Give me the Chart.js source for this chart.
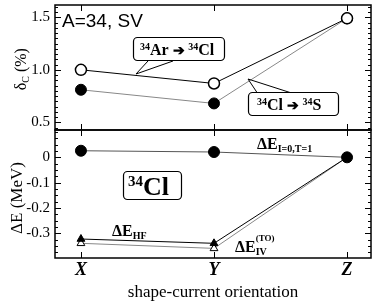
<!DOCTYPE html>
<html>
<head>
<meta charset="utf-8">
<script src="https://cdn.jsdelivr.net/npm/chart.js@4.4.1/dist/chart.umd.min.js"></script>
<style>
  html, body { margin: 0; padding: 0; background: #fff; }
  #wrap { position: relative; width: 374px; height: 305px; overflow: hidden; }
  .box { position: absolute; left: 0; width: 374px; }
  #topBox { top: 0; height: 131px; }
  #botBox { top: 129px; height: 176px; }
  canvas { display: block; }
</style>
</head>
<body>
<div id="wrap">
  <div class="box" id="topBox"><canvas id="topChart"></canvas></div>
  <div class="box" id="botBox"><canvas id="botChart"></canvas></div>
</div>
<script>
// ── Data ─────────────────────────────────────────────────────────────────────
const categories    = ["X", "Y", "Z"];
const arToCl        = [1.00, 0.87, 1.49];     // open circles, 34Ar -> 34Cl
const clToS         = [0.81, 0.68, 1.49];     // filled circles, 34Cl -> 34S
const dE_T          = [0.026, 0.021, 0.0];    // filled circles
const dE_HF         = [-0.323, -0.340, 0.0];  // filled triangles
const dE_IV         = [-0.340, -0.360, 0.0];  // open triangles
const topTicks      = [0.5, 1.0, 1.5];
const topTickLabels = ["0.5", "1.0", "1.5"];
const botTicks      = [-0.3, -0.2, -0.1, 0];
const botTickLabels = ["-0.3", "-0.2", "-0.1", "0"];

const SERIF = '"Liberation Serif", "DejaVu Serif", serif';
const SANS  = '"Liberation Sans", Arial, sans-serif';

const pts = arr => arr.map((v, i) => ({ x: i, y: v }));

// ── Helpers ──────────────────────────────────────────────────────────────────
// parts: [text, size, dy, style, noAdvance]
function rich(ctx, x, y, parts) {
    let cx = x;
    ctx.textBaseline = "alphabetic";
    ctx.textAlign = "left";
    for (const [t, size, dy, st, stay] of parts) {
        ctx.font = `${st || "bold"} ${size}px ${SERIF}`;
        ctx.fillText(t, cx, y + (dy || 0));
        if (!stay) cx += ctx.measureText(t).width;
    }
    return cx - x;
}

function bubble(ctx, x, y, w, h, tip, base) {
    ctx.save();
    ctx.beginPath();
    ctx.roundRect(x, y, w, h, 4);
    ctx.fillStyle = "#fff";
    ctx.fill();
    ctx.lineWidth = 1.2;
    ctx.strokeStyle = "#000";
    ctx.stroke();
    if (tip) {
        ctx.beginPath();
        ctx.moveTo(base[0], base[2]);
        ctx.lineTo(tip[0], tip[1]);
        ctx.lineTo(base[1], base[2]);
        ctx.lineWidth = 1;
        ctx.stroke();
    }
    ctx.restore();
}

// frame + inward ticks
const framePlugin = {
    id: "frame",
    afterDatasetsDraw(chart, args, opts) {
        const { ctx, chartArea: a, scales } = chart;
        const ys = scales.y, xs = scales.x;
        ctx.save();
        ctx.strokeStyle = "#000";
        ctx.lineWidth = 1;
        ctx.beginPath();
        // minor y ticks
        for (let v = Math.ceil(ys.min / opts.minor) * opts.minor; v <= ys.max; v += opts.minor) {
            const py = Math.round(ys.getPixelForValue(v)) + 0.5;
            ctx.moveTo(a.left, py);  ctx.lineTo(a.left + 3, py);
            ctx.moveTo(a.right, py); ctx.lineTo(a.right - 3, py);
        }
        // major y ticks
        for (const v of opts.major) {
            const py = Math.round(ys.getPixelForValue(v)) + 0.5;
            ctx.moveTo(a.left, py);  ctx.lineTo(a.left + 6, py);
            ctx.moveTo(a.right, py); ctx.lineTo(a.right - 6, py);
        }
        // x ticks
        categories.forEach((c, i) => {
            const px = Math.round(xs.getPixelForValue(i)) + 0.5;
            ctx.moveTo(px, a.top);    ctx.lineTo(px, a.top + 6);
            ctx.moveTo(px, a.bottom); ctx.lineTo(px, a.bottom - 6);
        });
        ctx.stroke();
        ctx.lineWidth = 1.5;
        ctx.strokeRect(a.left, a.top, a.right - a.left, a.bottom - a.top);
        ctx.restore();
        if (opts.extra) opts.extra(ctx, chart);
    }
};

function baseOptions(yMin, yMax, ticks, labels, showX) {
    return {
        responsive: true,
        maintainAspectRatio: false,
        animation: false,
        devicePixelRatio: 1,
        layout: {
            autoPadding: false,
            padding: showX ? { top: 1, right: 3, bottom: 0, left: 0 } : { top: 5, right: 3, bottom: 1, left: 0 }
        },
        plugins: { legend: { display: false }, tooltip: { enabled: false } },
        scales: {
            x: {
                type: "linear", min: -0.195, max: 2.18, display: showX,
                afterBuildTicks: s => { s.ticks = categories.map((c, i) => ({ value: i })); },
                afterFit: s => {
                    if (showX) s.height = 47;
                    s.paddingLeft = 0; s.paddingRight = 0;
                },
                ticks: {
                    callback: v => categories[v], color: "#000", padding: 2,
                    maxRotation: 0, autoSkip: false,
                    font: { family: SERIF, size: 18, style: "italic", weight: "bold" }
                },
                grid: { display: false, drawTicks: false },
                border: { display: false },
                title: {
                    display: true, text: "shape-current orientation", color: "#000",
                    font: { family: SERIF, size: 17 }, padding: { top: 0, bottom: 2 }
                }
            },
            y: {
                min: yMin, max: yMax,
                afterBuildTicks: s => { s.ticks = ticks.map(v => ({ value: v })); },
                afterFit: s => { s.width = 55; s.paddingTop = 0; s.paddingBottom = 0; },
                ticks: {
                    callback: (v, i) => labels[i], color: "#000", padding: 5,
                    font: { family: SERIF, size: 15 }
                },
                grid: { display: false, drawTicks: false },
                border: { display: false }
            }
        }
    };
}

// ── Top panel: delta_C ───────────────────────────────────────────────────────
const topOpts = baseOptions(0.427, 1.617, topTicks, topTickLabels, false);
topOpts.plugins.frame = {
    minor: 0.05, major: topTicks,
    extra(ctx) {
        ctx.save();
        ctx.fillStyle = "#000";
        ctx.font = `19px ${SANS}`;
        ctx.textBaseline = "alphabetic";
        ctx.textAlign = "left";
        ctx.fillText("A=34, SV", 62, 27);
        // y title
        ctx.translate(26, 69);
        ctx.rotate(-Math.PI / 2);
        ctx.font = `16px ${SERIF}`;
        let w = ctx.measureText("δ").width + 7 + ctx.measureText(" (%)").width;
        rich(ctx, -w / 2, 0, [["δ", 16, 0, "normal"], ["C", 10, 3, "normal"], [" (%)", 16, 0, "normal"]]);
        ctx.restore();

        ctx.save();
        ctx.fillStyle = "#000";
        bubble(ctx, 133.5, 37.5, 91, 23, [136, 74], [148, 173, 61]);
        rich(ctx, 140, 55, [["34", 10, -5], ["Ar ", 16], ["➔ ", 14], ["34", 10, -5], ["Cl", 16]]);
        bubble(ctx, 248.5, 92.5, 90, 23, [248, 79], [257, 290, 92.5]);
        rich(ctx, 257, 110, [["34", 10, -5], ["Cl ", 16], ["➔ ", 14], ["34", 10, -5], ["S", 16]]);
        ctx.restore();
    }
};
new Chart(document.getElementById("topChart"), {
    type: "line",
    data: {
        datasets: [
            { data: pts(arToCl), borderColor: "#000", borderWidth: 1, pointRadius: 5.5,
              pointBackgroundColor: "#fff", pointBorderColor: "#000", pointBorderWidth: 1.5, clip: false },
            { data: pts(clToS), borderColor: "#888", borderWidth: 1, pointRadius: 5.5,
              pointBackgroundColor: "#000", pointBorderColor: "#000", pointBorderWidth: 1, clip: false }
        ]
    },
    options: topOpts,
    plugins: [framePlugin]
});

// ── Bottom panel: delta E ────────────────────────────────────────────────────
const botOpts = baseOptions(-0.398, 0.108, botTicks, botTickLabels, true);
botOpts.plugins.frame = {
    minor: 0.025, major: botTicks,
    extra(ctx) {
        ctx.save();
        ctx.fillStyle = "#000";
        // y title
        ctx.save();
        ctx.translate(22, 69);
        ctx.rotate(-Math.PI / 2);
        ctx.font = `17px ${SERIF}`;
        ctx.textAlign = "center";
        ctx.textBaseline = "alphabetic";
        ctx.fillText("ΔE (MeV)", 0, 0);
        ctx.restore();

        // canvas sits at y=129 on the page
        bubble(ctx, 123.5, 42.5, 58, 28, null, null);
        rich(ctx, 128, 66, [["34", 15, -9], ["Cl", 26]]);
        rich(ctx, 257, 20, [["ΔE", 16], ["I=0,T=1", 10, 3]]);
        rich(ctx, 112, 107, [["ΔE", 16], ["HF", 10, 3]]);
        rich(ctx, 235, 123, [["ΔE", 16], ["(TO)", 9, -11, "bold", true], ["IV", 10, 3]]);
        ctx.restore();
    }
};
new Chart(document.getElementById("botChart"), {
    type: "line",
    data: {
        datasets: [
            { data: pts(dE_T), borderColor: "#555", borderWidth: 1, pointRadius: 5.5,
              pointBackgroundColor: "#000", pointBorderColor: "#000", clip: false },
            { data: pts(dE_HF), borderColor: "#000", borderWidth: 1, pointStyle: "triangle", pointRadius: 4.5,
              pointBackgroundColor: "#000", pointBorderColor: "#000", clip: false },
            { data: pts(dE_IV), borderColor: "#888", borderWidth: 1, pointStyle: "triangle", pointRadius: 4.5,
              pointBackgroundColor: "#fff", pointBorderColor: "#000", pointBorderWidth: 1, clip: false }
        ]
    },
    options: botOpts,
    plugins: [framePlugin]
});
</script>
</body>
</html>
